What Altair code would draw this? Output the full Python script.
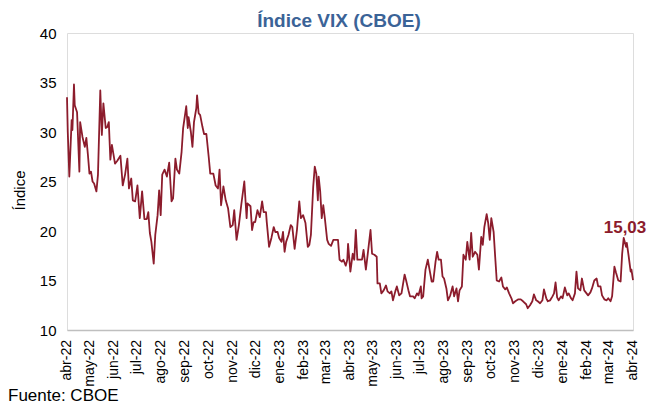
import altair as alt
import pandas as pd

# ---- data ----
start_date = "2022-04-26"
day = [0, 1, 3, 6, 7, 9, 10, 13, 16, 17, 20, 23, 25, 27, 29, 31, 33, 35, 38, 40,
       43, 45, 47, 50, 52, 54, 56, 58, 62, 65, 69, 72, 75, 78, 80, 83, 85, 88, 91, 94,
       97, 100, 103, 105, 107, 109, 112, 114, 117, 119, 121, 123, 126, 129, 132, 135, 137, 140, 142,
       145, 148, 150, 154, 156, 157, 160, 162, 164, 167, 168, 170, 172, 175, 177, 180, 183, 185, 189,
       192, 195, 197, 199, 202, 205, 208, 211, 214, 216, 219, 222, 225, 229, 232, 233, 237, 239, 241,
       243, 246, 249, 252, 254, 257, 258, 261, 264, 267, 269, 272, 274, 277, 279, 281, 283, 286, 289,
       291, 294, 297, 300, 302, 305, 308, 311, 313, 315, 318, 320, 322, 324, 325, 327, 329, 331, 333,
       336, 338, 341, 344, 347, 350, 352, 355, 357, 360, 362, 363, 366, 369, 371, 373, 375, 378, 381,
       383, 386, 388, 392, 394, 397, 400, 401, 404, 406, 409, 412, 414, 417, 419, 421, 424, 426, 429,
       432, 436,
       438, 441, 443, 447, 449, 452, 454, 457, 458, 460, 463, 466, 468, 471, 473, 476, 478, 480, 483,
       485, 487, 490, 492, 495, 498, 500, 503, 505, 507, 510, 512, 515, 517, 520, 522, 524, 527, 530,
       532, 535, 537, 539, 542, 544, 546, 548, 551, 553, 555, 558, 561, 563, 566, 568, 571, 574, 576,
       579, 581,
       583, 586, 589, 593, 595, 598, 601, 603, 606, 608, 611, 614, 616, 619, 621, 624, 627, 629, 631,
       633, 635, 638, 640, 643, 646, 648, 651, 653, 656, 658, 660, 663, 665, 668, 671, 673, 676, 678,
       681, 684, 686, 689, 691, 694, 697, 699, 702, 704, 707, 709, 712, 715, 717, 719, 722, 723, 725,
       728, 729, 731]
vix = [33.5, 30.0, 25.5, 31.2, 30.2, 34.8, 32.7, 32.0, 26.0, 31.0, 29.5, 28.5, 29.4, 27.7, 25.8, 26.0, 25.0, 24.8, 24.0, 25.7,
       34.2, 29.7, 32.9, 30.4, 30.5, 31.0, 27.2, 28.7, 26.8, 27.1, 27.6, 24.6, 25.7, 27.3, 24.3, 25.3, 23.1, 23.0, 24.6, 21.3,
       24.0, 21.2, 21.2, 21.9, 19.8, 18.9, 16.7, 19.6, 21.6, 24.1, 21.6, 25.7, 26.2, 25.5, 26.9, 23.0, 23.3, 27.3, 26.2,
       25.8, 28.0, 30.4, 32.6, 30.4, 31.5, 30.0, 28.5, 31.0, 32.4, 33.7, 31.9, 31.7, 30.5, 29.8, 29.8, 27.5, 25.8, 25.8,
       24.6, 24.3, 26.2, 22.6, 24.5, 23.1, 22.3, 20.4, 20.6, 22.1, 19.1, 20.6, 22.6, 25.0, 21.3, 22.8, 22.5, 20.1, 20.9,
       20.9, 22.1, 21.4, 23.0, 21.9, 21.9, 20.9, 18.4, 19.3, 20.4, 19.9, 19.9, 19.3, 18.9, 19.9, 17.9, 18.9, 19.6, 20.6,
       20.4, 18.2, 20.1, 23.0, 21.3, 21.6, 20.8, 18.4, 18.6, 19.6, 24.5, 26.5, 25.8, 23.1, 25.5, 24.0, 21.3, 22.6, 21.3,
       19.1, 18.7, 18.5, 19.1, 19.1, 19.1, 17.1, 16.9, 17.1, 16.5, 17.1, 18.7, 15.9, 17.7, 17.1, 20.1, 17.1, 17.1, 17.1,
       18.1, 16.1, 17.4, 20.1, 17.7, 17.6, 17.4, 14.7, 14.7, 13.7, 14.0, 14.5, 13.9, 13.7, 13.9, 13.0, 13.9, 14.4, 13.5,
       13.7, 15.6,
       15.0, 14.0, 13.4, 13.4, 13.2, 13.7, 13.5, 14.4, 13.2, 13.4, 16.1, 17.1, 16.2, 14.9, 14.9, 16.9, 17.9, 17.1, 17.1,
       15.4, 15.2, 14.2, 13.0, 13.5, 14.4, 13.4, 14.2, 12.9, 14.0, 14.4, 17.6, 17.1, 18.9, 17.1, 19.8, 17.4, 17.9, 17.6,
       16.1, 19.4, 18.6, 20.4, 21.7, 20.8, 19.1, 21.3, 19.9, 17.4, 15.0, 14.9, 15.3, 14.4, 14.1, 14.3, 13.7, 13.2, 12.7,
       12.9, 13.0,
       13.1, 13.1, 12.9, 12.6, 12.2, 12.5, 12.9, 13.6, 13.0, 12.9, 12.7, 13.0, 14.1, 13.2, 12.9, 13.0, 13.4, 13.7, 14.8,
       13.3, 13.0, 13.4, 13.2, 14.3, 13.5, 13.7, 13.2, 13.0, 13.7, 15.9, 14.2, 14.0, 15.2, 14.0, 13.7, 13.5, 13.8, 14.2,
       15.0, 15.2, 14.4, 14.4, 13.5, 13.1, 13.0, 13.2, 12.9, 13.4, 16.4, 15.8, 15.0, 14.9, 17.7, 19.3, 18.4, 18.8, 17.7,
       15.9, 16.1, 15.03]
month_names = ["ene", "feb", "mar", "abr", "may", "jun", "jul", "ago", "sep", "oct", "nov", "dic"]
tick_months = [(2022, m) for m in range(4, 13)] + [(2023, m) for m in range(1, 13)] + [(2024, m) for m in range(1, 5)]
y_ticks = [10, 15, 20, 25, 30, 35, 40]

title_text = "Índice VIX (CBOE)"
y_title = "Índice"
source_text = "Fuente: CBOE"

# ---- styling ----
FONT = "Liberation Sans"
LINE_COLOR = "#8C1C2C"
TITLE_COLOR = "#3B6397"

df = pd.DataFrame({
    "fecha": pd.Timestamp(start_date) + pd.to_timedelta(day, unit="D"),
    "vix": vix,
})
last = df.iloc[[-1]].copy()
last["label"] = [f"{v:.2f}".replace(".", ",") for v in last["vix"]]

ticks_df = pd.DataFrame({
    "fecha": [pd.Timestamp(year=y, month=m, day=26) for (y, m) in tick_months],
    "label": [f"{month_names[m - 1]}-{y % 100:02d}" for (y, m) in tick_months],
})

x_scale = alt.Scale(
    domain=[alt.DateTime(year=2022, month=4, date=26), alt.DateTime(year=2024, month=4, date=26)],
    nice=False,
)

x_enc = alt.X(
    "fecha:T",
    title=None,
    scale=x_scale,
    axis=alt.Axis(
        labels=False,
        ticks=False,
        grid=False,
        domain=True,
        domainColor="#BFBFBF",
        domainWidth=1.5,
    ),
)
y_enc = alt.Y(
    "vix:Q",
    title=y_title,
    scale=alt.Scale(domain=[10, 40], nice=False, zero=False),
    axis=alt.Axis(
        values=y_ticks,
        ticks=False,
        grid=False,
        domain=False,
        labelPadding=11,
        labelFontSize=15,
        labelFont=FONT,
        labelColor="#000000",
        titleFont=FONT,
        titleFontSize=15,
        titleFontWeight="normal",
        titleColor="#000000",
        titlePadding=12,
        titleY=157,
    ),
)

line = alt.Chart(df).mark_line(color=LINE_COLOR, strokeWidth=1.8, strokeJoin="round").encode(x=x_enc, y=y_enc)

xlabels = alt.Chart(ticks_df).mark_text(
    font=FONT, fontSize=14, color="#000000", angle=270,
    align="right", baseline="middle",
).encode(x=alt.X("fecha:T", scale=x_scale), y=alt.value(307), text="label:N")

label = alt.Chart(last).mark_text(
    font=FONT, fontSize=17, fontWeight="bold", color=LINE_COLOR,
    align="center", baseline="middle", dx=-8, dy=-52,
).encode(x="fecha:T", y="vix:Q", text="label:N")

source = alt.Chart(pd.DataFrame({"t": [source_text]})).mark_text(
    font=FONT, fontSize=17, color="#000000", align="left", baseline="alphabetic",
).encode(x=alt.value(-59), y=alt.value(368), text="t:N")

chart = alt.layer(line, xlabels, label, source).properties(
    width=566,
    height=297,
    autosize=alt.AutoSizeParams(type="none"),
    padding={"left": 59, "top": 25, "right": 15, "bottom": 76},
    title=alt.TitleParams(
        title_text, font=FONT, fontSize=19, fontWeight="bold", color=TITLE_COLOR,
        anchor="middle", frame="group", offset=9, dx=-11, dy=14,
    ),
).configure_view(stroke=None).configure(background="#ffffff")

chart.save("out.html", embed_options={"renderer": "svg", "actions": False})
